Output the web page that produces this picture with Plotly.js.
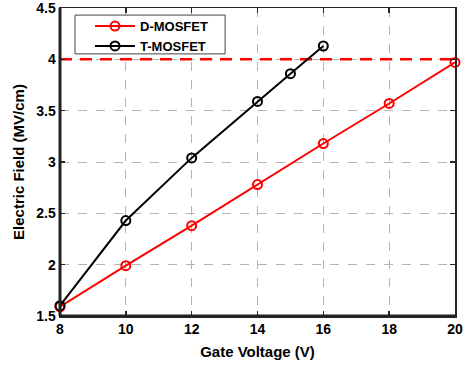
<!DOCTYPE html>
<html><head><meta charset="utf-8">
<script src="https://cdn.plot.ly/plotly-3.0.1.min.js"></script>
<style>html,body{margin:0;padding:0;background:#fff;}#chart{width:463px;height:367px;}</style>
</head><body><div id="chart"></div>
<script>
var dX = [8, 10, 12, 14, 16, 18, 20];
var dY = [1.59, 1.99, 2.38, 2.78, 3.18, 3.57, 3.97];
var tX = [8, 10, 12, 14, 15, 16];
var tY = [1.6, 2.43, 3.04, 3.59, 3.86, 4.13];
var limitY = 4;
var xTicks = [8, 10, 12, 14, 16, 18, 20];
var yTicks = [1.5, 2, 2.5, 3, 3.5, 4, 4.5];

var fam = 'Liberation Sans, Arial, sans-serif';
var traces = [
  {x: [8, 20], y: [limitY, limitY], mode: 'lines', line: {color: '#ff0000', width: 2.5, dash: '12px,8px'}, showlegend: false, hoverinfo: 'skip'},
  {x: dX, y: dY, name: '<b>D-MOSFET</b>', mode: 'lines+markers', line: {color: '#ff0000', width: 2}, cliponaxis: false,
   marker: {symbol: 'circle-open', size: 9, color: '#ff0000', line: {width: 2, color: '#ff0000'}}},
  {x: tX, y: tY, name: '<b>T-MOSFET</b>', mode: 'lines+markers', line: {color: '#000000', width: 2}, cliponaxis: false,
   marker: {symbol: 'circle-open', size: 9, color: '#000000', line: {width: 2, color: '#000000'}}}
];
var axBase = {
  showline: true, linecolor: '#262626', linewidth: 1.5, mirror: 'ticks',
  ticks: 'inside', ticklen: 5, tickwidth: 1.5, tickcolor: '#262626',
  showgrid: true, gridcolor: '#b3b3b3', griddash: 'dash', gridwidth: 1,
  zeroline: false, ticklabeloverflow: 'allow',
  tickfont: {family: fam, size: 14, color: '#000', weight: 'bold'}
};
var layout = {
  width: 463, height: 367,
  margin: {l: 60, r: 8, t: 8, b: 51},
  paper_bgcolor: '#fff', plot_bgcolor: '#fff',
  font: {family: fam, size: 13, color: '#000'},
  showlegend: true,
  legend: {x: 0.076, y: 0.99, xanchor: 'left', yanchor: 'top', bgcolor: 'rgba(0,0,0,0)',
    borderwidth: 0, font: {family: fam, size: 13, color: '#000'},
    tracegroupgap: 0, itemwidth: 40},
  xaxis: Object.assign({}, axBase, {range: [8, 20], tickvals: xTicks, ticktext: xTicks.map(String),
    title: {text: '<b>Gate Voltage (V)</b>', standoff: 10, font: {family: fam, size: 15, color: '#000'}}}),
  yaxis: Object.assign({}, axBase, {range: [1.5, 4.5], tickvals: yTicks, ticktext: yTicks.map(String),
    title: {text: '<b>Electric Field (MV/cm)</b>', standoff: 8, font: {family: fam, size: 15, color: '#000'}}}),
  shapes: [
    {type: 'rect', xref: 'paper', yref: 'paper', x0: 0.038, x1: 0.418, y0: 0.851, y1: 0.977, layer: 'above',
     fillcolor: '#ffffff', line: {color: '#444', width: 1}},
    {type: 'line', xref: 'paper', yref: 'paper', x0: 0, x1: 0, y0: 0, y1: 1, line: {color: '#222', width: 3}},
    {type: 'line', xref: 'paper', yref: 'paper', x0: 0, x1: 1, y0: 0, y1: 0, line: {color: '#222', width: 3}}
  ]
};
Plotly.newPlot('chart', traces, layout, {displayModeBar: false, staticPlot: true});
</script></body></html>
